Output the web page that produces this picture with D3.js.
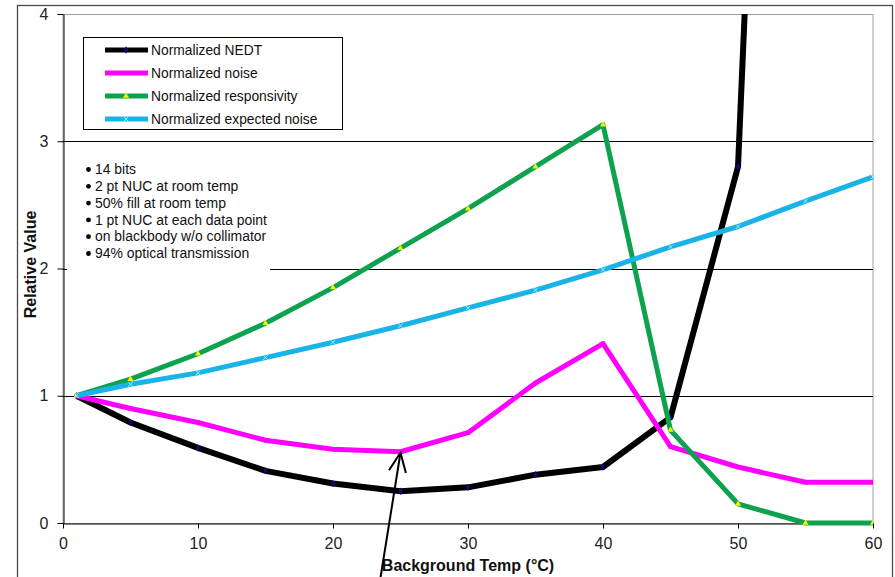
<!DOCTYPE html>
<html>
<head>
<meta charset="utf-8">
<script src="https://cdn.jsdelivr.net/npm/d3@7"></script>
<style>
  html, body { margin: 0; padding: 0; background: #fff; }
  svg { display: block; }
  text { font-family: "Liberation Sans", Arial, sans-serif; }
</style>
</head>
<body>
<svg id="chart" width="895" height="577"></svg>
<script>
// Background temperature (°C) at each measurement
const temps = [1, 5, 10, 15, 20, 25, 30, 35, 40, 45, 50, 55, 60];

// Normalized quantities (relative to the 1 °C point)
const nedt          = [1.00, 0.79, 0.59, 0.41, 0.31, 0.25, 0.28, 0.38, 0.44, 0.83, 2.80, 15.0, null];
const noise         = [1.00, 0.90, 0.79, 0.65, 0.58, 0.56, 0.71, 1.10, 1.41, 0.60, 0.44, 0.32, 0.32];
const responsivity  = [1.00, 1.13, 1.33, 1.57, 1.85, 2.16, 2.47, 2.80, 3.13, 0.73, 0.15, 0.00, 0.00];
const expectedNoise = [1.00, 1.09, 1.18, 1.30, 1.42, 1.55, 1.69, 1.83, 1.99, 2.17, 2.33, 2.53, 2.72];

const seriesNames = ["Normalized NEDT", "Normalized noise", "Normalized responsivity", "Normalized expected noise"];

const xTicks = [0, 10, 20, 30, 40, 50, 60];
const yTicks = [0, 1, 2, 3, 4];
const gridValues = [1, 2, 3];

const notes = [
  "14 bits",
  "2 pt NUC at room temp",
  "50% fill at room temp",
  "1 pt NUC at each data point",
  "on blackbody w/o collimator",
  "94% optical transmission"
];

const xTitle = "Background Temp (°C)";
const yTitle = "Relative Value";

// ---- drawing ----
const svg = d3.select("#chart");
const plot = { left: 63, right: 873, top: 14, bottom: 523 };

const x = d3.scaleLinear().domain([0, 60]).range([plot.left, plot.right]);
const y = d3.scaleLinear().domain([0, 4]).range([plot.bottom, plot.top]);

// chart frame
svg.append("rect")
  .attr("x", 17.5).attr("y", 5.5).attr("width", 875).attr("height", 620)
  .attr("fill", "#fff").attr("stroke", "#4a4a4a").attr("stroke-width", 1.3);

// plot area border
svg.append("rect")
  .attr("x", plot.left).attr("y", plot.top + 0.5)
  .attr("width", plot.right - plot.left).attr("height", plot.bottom - plot.top)
  .attr("fill", "none").attr("stroke", "#a0a0a0").attr("stroke-width", 1);

// gridlines
svg.append("g").selectAll("line").data(gridValues).join("line")
  .attr("x1", plot.left).attr("x2", plot.right)
  .attr("y1", d => Math.round(y(d)) + 0.5).attr("y2", d => Math.round(y(d)) + 0.5)
  .attr("stroke", "#000").attr("stroke-width", 1);

// axes
const yAxis = svg.append("g")
  .attr("transform", `translate(${plot.left + 0.5},0)`)
  .call(d3.axisLeft(y).tickValues(yTicks).tickFormat(d3.format("d")).tickSize(6).tickSizeOuter(0).tickPadding(9));
const xAxis = svg.append("g")
  .attr("transform", `translate(0,${plot.bottom + 0.5})`)
  .call(d3.axisBottom(x).tickValues(xTicks).tickFormat(d3.format("d")).tickSize(5).tickSizeOuter(0).tickPadding(9));
[yAxis, xAxis].forEach(g => {
  g.attr("font-family", null).attr("font-size", null);
  g.select(".domain").attr("stroke", "#000");
  g.selectAll(".tick line").attr("stroke", "#000");
  g.selectAll(".tick text")
    .attr("fill", "#222")
    .style("font-size", "16px");
});

// notes box (white background interrupts the gridline beneath)
const noteBox = svg.append("g");
noteBox.append("rect")
  .attr("x", 67).attr("y", 152).attr("width", 203).attr("height", 121)
  .attr("fill", "#fff");
notes.forEach((t, i) => {
  const ty = 169 + i * 16.8;
  noteBox.append("circle").attr("cx", 88.5).attr("cy", ty + 0.5).attr("r", 2.4).attr("fill", "#000");
  noteBox.append("text")
    .attr("transform", `translate(95,${ty}) scale(0.93,1)`)
    .attr("dominant-baseline", "central")
    .style("font-size", "15px").attr("fill", "#111")
    .text(t);
});

// series
const series = [
  { name: seriesNames[0], values: nedt, color: "#000000", width: 6, marker: "diamond", mcolor: "#0a0a7a" },
  { name: seriesNames[1], values: noise, color: "#ff00ff", width: 5, marker: "square", mcolor: "#ff00ff" },
  { name: seriesNames[2], values: responsivity, color: "#0ca24e", width: 5, marker: "triangle", mcolor: "#f5f500" },
  { name: seriesNames[3], values: expectedNoise, color: "#1ab3e8", width: 5, marker: "cross", mcolor: "#8ff0ff" }
];

svg.append("clipPath").attr("id", "plotClip")
  .append("rect").attr("x", plot.left).attr("y", plot.top)
  .attr("width", plot.right - plot.left).attr("height", plot.bottom - plot.top + 6);

const line = d3.line()
  .defined(d => d.v != null)
  .x(d => x(d.t)).y(d => y(d.v));

const symbolOf = {
  diamond: d3.symbolDiamond,
  square: d3.symbolSquare,
  triangle: d3.symbolTriangle,
  cross: d3.symbolTimes
};

const seriesLayer = svg.append("g").attr("clip-path", "url(#plotClip)");
series.forEach(s => {
  const pts = temps.map((t, i) => ({ t, v: s.values[i] }));
  seriesLayer.append("path")
    .datum(pts)
    .attr("d", line)
    .attr("fill", "none")
    .attr("stroke", s.color)
    .attr("stroke-width", s.width)
    .attr("stroke-linejoin", "round");
  seriesLayer.append("g").selectAll("path")
    .data(pts.filter(d => d.v != null))
    .join("path")
    .attr("transform", d => `translate(${x(d.t)},${y(d.v)})`)
    .attr("d", d3.symbol().type(symbolOf[s.marker]).size(s.marker === "cross" ? 14 : 16))
    .attr("fill", s.marker === "cross" ? "none" : s.mcolor)
    .attr("stroke", s.marker === "cross" ? s.mcolor : "none")
    .attr("stroke-width", 1);
});

// legend
const legend = svg.append("g");
legend.append("rect")
  .attr("x", 83.5).attr("y", 37.5).attr("width", 259).attr("height", 92)
  .attr("fill", "#fff").attr("stroke", "#000").attr("stroke-width", 1);
series.forEach((s, i) => {
  const ly = 50 + i * 23;
  legend.append("line")
    .attr("x1", 105).attr("x2", 148).attr("y1", ly).attr("y2", ly)
    .attr("stroke", s.color).attr("stroke-width", 5);
  legend.append("path")
    .attr("transform", `translate(126,${ly})`)
    .attr("d", d3.symbol().type(symbolOf[s.marker]).size(s.marker === "cross" ? 14 : 16))
    .attr("fill", s.marker === "cross" ? "none" : s.mcolor)
    .attr("stroke", s.marker === "cross" ? s.mcolor : "none");
  legend.append("text")
    .attr("transform", `translate(151,${ly}) scale(0.92,1)`)
    .attr("dominant-baseline", "central")
    .style("font-size", "15px").attr("fill", "#111")
    .text(s.name);
});

// axis titles
svg.append("text")
  .attr("x", (plot.left + plot.right) / 2).attr("y", 571)
  .attr("text-anchor", "middle")
  .style("font-size", "16px").style("font-weight", "bold").attr("fill", "#111")
  .text(xTitle);
svg.append("text")
  .attr("transform", `translate(36,${(plot.top + plot.bottom) / 2 - 4}) rotate(-90)`)
  .attr("text-anchor", "middle")
  .style("font-size", "16px").style("font-weight", "bold").attr("fill", "#111")
  .text(yTitle);

// arrow pointing at the noise minimum (25 °C)
const tipIdx = temps.indexOf(25);
const tip = [x(temps[tipIdx]), y(noise[tipIdx]) + 1];
const tail = [tip[0] - 22, 590];
const ang = Math.atan2(tail[1] - tip[1], tail[0] - tip[0]);
const wing = 21, spread = 0.42;
svg.append("line")
  .attr("x1", tail[0]).attr("y1", tail[1]).attr("x2", tip[0]).attr("y2", tip[1])
  .attr("stroke", "#000").attr("stroke-width", 2);
svg.append("path")
  .attr("d", d3.line()([
    [tip[0] + wing * Math.cos(ang - spread), tip[1] + wing * Math.sin(ang - spread)],
    tip,
    [tip[0] + wing * Math.cos(ang + spread), tip[1] + wing * Math.sin(ang + spread)]
  ]))
  .attr("fill", "none").attr("stroke", "#000").attr("stroke-width", 2);
</script>
</body>
</html>
